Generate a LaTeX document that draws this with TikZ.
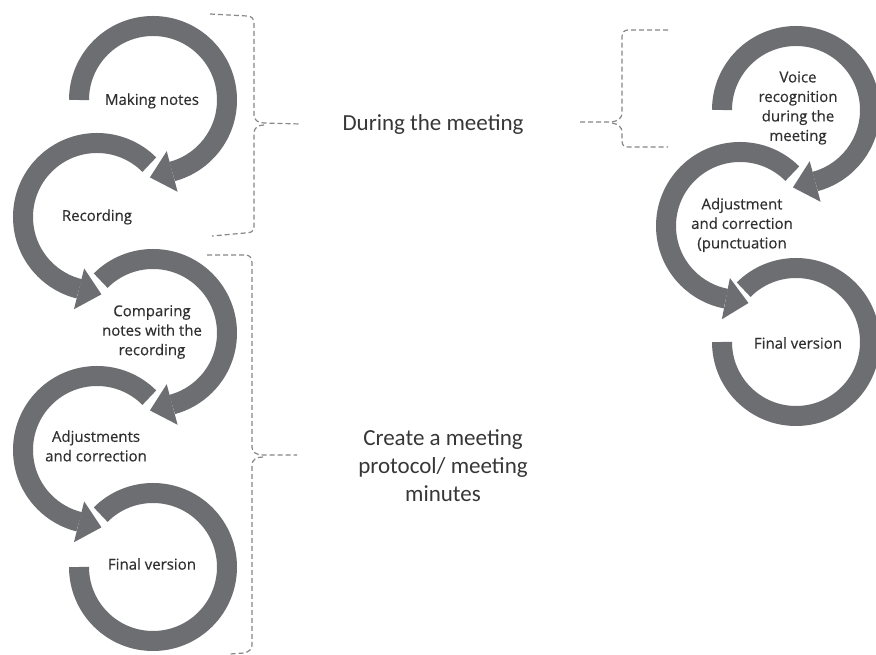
\documentclass[tikz,border=0pt]{standalone}
\usepackage{fontspec}
\setmainfont{Open Sans}
\newfontfamily\lblfont{Open Sans}[FakeBold=0.35]
\newfontfamily\bigfont{Carlito}
\usetikzlibrary{calc}
\definecolor{bandgray}{RGB}{109,110,113}
\definecolor{txtgray}{RGB}{48,48,48}
\definecolor{bigtxtgray}{RGB}{55,55,55}
\definecolor{dashgray}{RGB}{135,135,135}
\newcommand{\bandarrow}[4]{% center, start, end, tangent offset (+90 ccw, -90 cw)
  \draw[band] ($(#1)+(#2:74)$) arc[start angle=#2, end angle=#3, radius=74];
  \fill[bandgray] ($(#1)+(#3:53)$) -- ($(#1)+(#3:95)$) -- ($(#1)+(#3:74)+({#3+#4}:23)$) -- cycle;
}
\newcommand{\bandonly}[3]{%
  \draw[band] ($(#1)+(#2:74)$) arc[start angle=#2, end angle=#3, radius=74];
}
\begin{document}
\begin{tikzpicture}[x=1pt,y=1pt,
  band/.style={draw=bandgray, line width=20pt, line cap=butt},
  lbl/.style={align=center, text=txtgray, font=\lblfont\fontsize{15}{19.5}\selectfont, inner sep=0pt},
  bigtxt/.style={align=center, text=bigtxtgray, font=\bigfont\fontsize{23}{28}\selectfont, inner sep=0pt},
  brace/.style={draw=dashgray, line width=1.2pt, dash pattern=on 5pt off 3pt}]
\useasboundingbox (0,0) rectangle (876,655);
\fill[white] (0,0) rectangle (876,655);
% circle centres
\coordinate (c1) at (153,555);
\coordinate (c2) at (97,438);
\coordinate (c3) at (153,322);
\coordinate (c4) at (97,205);
\coordinate (c5) at (153,88);
\coordinate (r1) at (796,545);
\coordinate (r2) at (740,429);
\coordinate (r3) at (796,313);
% left column arcs
\bandarrow{c1}{180}{-75}{-90}
\bandarrow{c2}{45}{256}{90}
\bandarrow{c3}{135}{-75}{-90}
\bandarrow{c4}{45}{256}{90}
\bandonly{c5}{135}{-180}
% right column arcs
\bandarrow{r1}{180}{-75}{-90}
\bandarrow{r2}{45}{259}{90}
\bandonly{r3}{135}{-180}
% labels
\node[lbl] (t1) at (152,554) {Making notes};
\node[lbl] (t2) at (97,438) {Recording};
\node[lbl] (t3) at (152,323) {Comparing\\notes with the\\recording};
\node[lbl] (t4) at (96,209) {Adjustments\\and correction};
\node[lbl] (t5) at (152,91) {Final version};
\node[lbl] (u1) at (798,547) {Voice\\recognition\\during the\\meeting};
\node[lbl] (u2) at (742,430) {Adjustment\\and correction\\(punctuation};
\node[lbl] (u3) at (798,312) {Final version};
% group texts
\node[bigtxt] (g1) at (433,530) {During the meeting};
\node[bigtxt] (g2) at (443,189) {Create a meeting\\protocol/ meeting\\minutes};
% braces
\draw[brace] (210,641) -- (247,639) .. controls (252,639) and (254,636) .. (254,631) -- (254,540)
  .. controls (254,535) and (258,532) .. (264,532) -- (300,531);
\draw[brace] (264,530) .. controls (258,530) and (254,527) .. (254,522) -- (254,428)
  .. controls (254,423) and (250,422) .. (245,422) -- (212,419);
\draw[brace] (207,400) -- (245,400) .. controls (250,400) and (252,397) .. (252,392) -- (252,208)
  .. controls (252,203) and (256,200) .. (263,200) -- (297,200);
\draw[brace] (263,198) .. controls (256,198) and (252,195) .. (252,190) -- (252,10)
  .. controls (252,6) and (249,3) .. (244,2) -- (230,1);
\draw[brace] (668,625) -- (628,625) .. controls (624,625) and (622,622) .. (622,618) -- (622,542)
  .. controls (622,537) and (618,534) .. (612,533) -- (578,533);
\draw[brace] (612,532) .. controls (618,531) and (622,528) .. (622,523) -- (622,514)
  .. controls (622,510) and (624,508) .. (628,508) -- (668,508);
\end{tikzpicture}
\end{document}
